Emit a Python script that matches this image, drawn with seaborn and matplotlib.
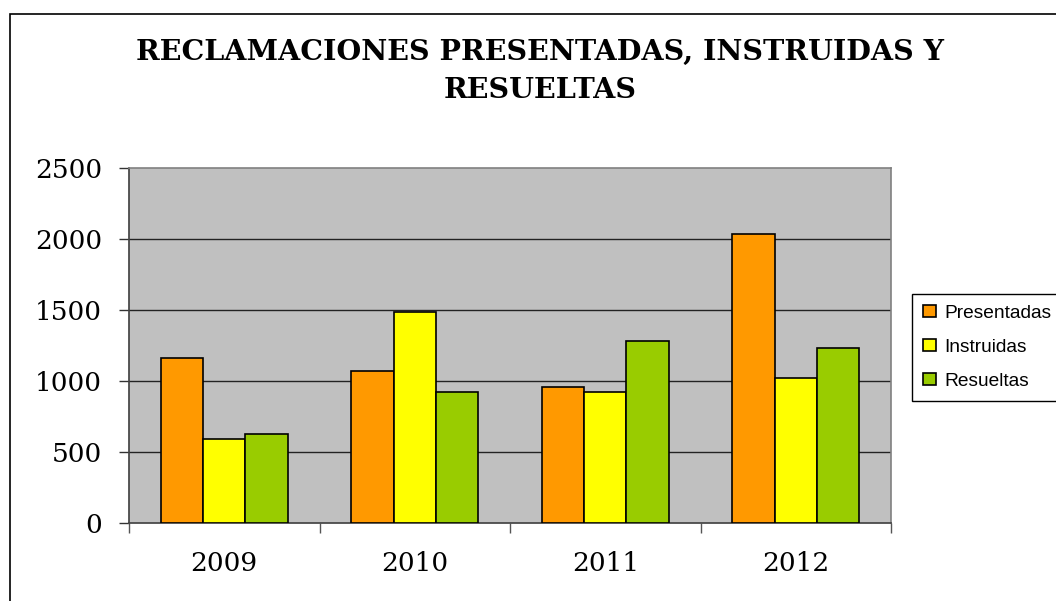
import matplotlib
matplotlib.use("Agg")
import matplotlib.pyplot as plt
import seaborn as sns
import pandas as pd
from matplotlib.patches import Rectangle, Patch

years = ["2009", "2010", "2011", "2012"]
series = ["Presentadas", "Instruidas", "Resueltas"]
presentadas = [1160, 1070, 960, 2035]
instruidas = [595, 1485, 920, 1020]
resueltas = [625, 925, 1285, 1235]
colors = ["#FF9900", "#FFFF00", "#99CC00"]
yticks = [0, 500, 1000, 1500, 2000, 2500]

rows = []
for name, vals in zip(series, [presentadas, instruidas, resueltas]):
    for y, v in zip(years, vals):
        rows.append({"year": y, "series": name, "value": v})
df = pd.DataFrame(rows)

sns.set_theme(style="white")
plt.rcParams["font.family"] = ["DejaVu Serif"]
plt.rcParams["text.color"] = "black"
plt.rcParams["xtick.color"] = "black"
plt.rcParams["ytick.color"] = "black"

fig = plt.figure(figsize=(10.56, 6.01), dpi=100)
ax = fig.add_axes([129/1056, 78/601, 762/1056, 355/601])
ax.set_facecolor("#C0C0C0")

sns.barplot(data=df, x="year", y="value", hue="series", order=years,
            hue_order=series, palette=colors, saturation=1, width=0.667,
            edgecolor="black", linewidth=1.2, ax=ax, legend=False, zorder=3)

ax.set_ylim(0, 2500)
ax.set_xlim(-0.5, 3.5)
ax.set_yticks(yticks)
ax.set_yticklabels([str(t) for t in yticks], fontsize=19)
ax.set_xticks(range(len(years)))
ax.set_xticklabels(years, fontsize=19)
ax.set_xticks([-0.5, 0.5, 1.5, 2.5, 3.5], minor=True)
ax.tick_params(axis="x", which="major", length=0, pad=20)
ax.tick_params(axis="x", which="minor", length=7.5, width=1, color="#555555", direction="out", bottom=True)
ax.tick_params(axis="y", which="major", length=7.5, width=1, color="#333333", direction="out", left=True, pad=12)
ax.set_xlabel("")
ax.set_ylabel("")
for g in [500, 1000, 1500, 2000]:
    ax.axhline(g, color="#222222", linewidth=1, zorder=1)
for s in ["top", "right"]:
    ax.spines[s].set_color("#808080")
    ax.spines[s].set_linewidth(1.2)
ax.spines["left"].set_color("#444444")
ax.spines["bottom"].set_color("#444444")
for s in ax.spines.values():
    s.set_visible(True)

fig.text(540/1056, 1 - 52/601, "RECLAMACIONES PRESENTADAS, INSTRUIDAS Y",
         ha="center", va="center", fontsize=20.5, fontweight="bold", family="DejaVu Serif", color="black")
fig.text(540/1056, 1 - 90/601, "RESUELTAS",
         ha="center", va="center", fontsize=20.5, fontweight="bold", family="DejaVu Serif", color="black")

handles = [Patch(facecolor=c, edgecolor="black", linewidth=1.2, label=n) for c, n in zip(colors, series)]
leg = fig.legend(handles=handles, loc="upper left", bbox_to_anchor=(912/1056, 1 - 294/601),
                 frameon=True, fancybox=False, edgecolor="black", framealpha=1,
                 prop={"family": "Liberation Sans", "size": 13.8},
                 handlelength=0.65, handleheight=0.6, handletextpad=0.45,
                 labelspacing=0.88, borderpad=0.58, borderaxespad=0)
leg.get_frame().set_linewidth(1)

fig.patches.append(Rectangle((10/1056, -0.1), 1.2, 1 - 14/601 + 0.1, transform=fig.transFigure,
                             fill=False, edgecolor="black", linewidth=1.2))

fig.savefig("out.png", dpi=100, facecolor="white")
